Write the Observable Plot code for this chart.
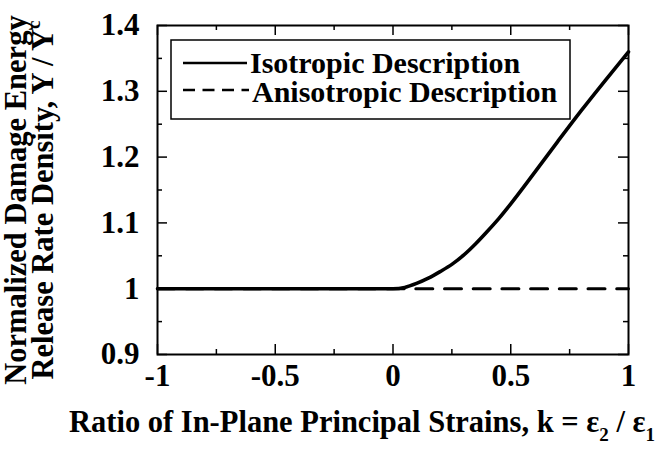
<!DOCTYPE html>
<html><head><meta charset="utf-8">
<script src="https://cdn.jsdelivr.net/npm/d3@7"></script>
<script src="https://cdn.jsdelivr.net/npm/@observablehq/plot@0.6"></script>
<style>body{margin:0;background:#fff}</style>
</head><body><div id="chart"></div>
<script>
// Data
const isoK = [-1, 0, 0.05, 0.1, 0.15, 0.2, 0.25, 0.3, 0.35, 0.4, 0.45, 0.5, 0.6, 0.7, 0.8, 0.9, 1.0];
const isoY = [1, 1, 1.002, 1.008, 1.016, 1.026, 1.037, 1.051, 1.068, 1.087, 1.107, 1.129, 1.176, 1.224, 1.271, 1.316, 1.36];
const anisoK = [-1, 1];
const anisoY = [1, 1];
const xMajor = [-1, -0.5, 0, 0.5, 1];
const xMinor = [-0.75, -0.25, 0.25, 0.75];
const yMajor = [0.9, 1, 1.1, 1.2, 1.3, 1.4];
const yMinor = [0.95, 1.05, 1.15, 1.25, 1.35];
const xTickLabels = ["-1", "-0.5", "0", "0.5", "1"];
const yTickLabels = ["0.9", "1", "1.1", "1.2", "1.3", "1.4"];
const legendLabels = ["Isotropic Description", "Anisotropic Description"];
const xTitle = ["Ratio of In-Plane Principal Strains, k = ", "\u03b5", "2", " / ", "\u03b5", "1"];
const yTitle1 = "Normalized Damage Energy";
const yTitle2 = ["Release Rate Density, Y / Y", "c"];

const W = 661, H = 455;
const mT = 25, mL = 157, mR = 33, mB = 101;
const fw = W - mL - mR, fh = H - mT - mB;
const FONT = "Liberation Serif, Times New Roman, serif";

const iso = isoK.map((k, i) => ({k, y: isoY[i]}));
const aniso = anisoK.map((k, i) => ({k, y: anisoY[i]}));

const plot = Plot.plot({
  width: W, height: H,
  marginTop: mT, marginLeft: mL, marginRight: mR, marginBottom: mB,
  style: {fontFamily: FONT, background: "white", color: "black", overflow: "visible"},
  x: {domain: [-1, 1]},
  y: {domain: [0.9, 1.4]},
  marks: [
    // ticks (inward, all four sides)
    Plot.ruleX(xMajor, {x: d => d, insetTop: fh - 10, strokeWidth: 1.5}),
    Plot.ruleX(xMinor, {x: d => d, insetTop: fh - 5, strokeWidth: 1.5}),
    Plot.ruleX(xMajor, {x: d => d, insetBottom: fh - 10, strokeWidth: 1.5}),
    Plot.ruleX(xMinor, {x: d => d, insetBottom: fh - 5, strokeWidth: 1.5}),
    Plot.ruleY(yMajor, {y: d => d, insetRight: fw - 10, strokeWidth: 1.5}),
    Plot.ruleY(yMinor, {y: d => d, insetRight: fw - 5, strokeWidth: 1.5}),
    Plot.ruleY(yMajor, {y: d => d, insetLeft: fw - 10, strokeWidth: 1.5}),
    Plot.ruleY(yMinor, {y: d => d, insetLeft: fw - 5, strokeWidth: 1.5}),
    // tick labels
    Plot.axisX(xMajor, {tickSize: 0, tickPadding: 9, fontSize: 31, fontWeight: "bold",
      tickFormat: (d, i) => xTickLabels[i], label: null}),
    Plot.axisY(yMajor, {tickSize: 0, tickPadding: 18, fontSize: 31, fontWeight: "bold",
      tickFormat: (d, i) => yTickLabels[i], label: null}),
    // series
    Plot.line(aniso, {x: "k", y: "y", stroke: "black", strokeWidth: 3, strokeDasharray: "17,11.7"}),
    Plot.line(iso, {x: "k", y: "y", stroke: "black", strokeWidth: 3.6, curve: "monotone-x"}),
    Plot.frame({stroke: "black", strokeWidth: 2})
  ]
});
document.getElementById("chart").appendChild(plot);

const svg = d3.select(plot);
// legend
const lg = svg.append("g").attr("font-family", FONT).attr("font-weight", "bold")
  .attr("font-size", 30).attr("text-anchor", "start");
lg.append("rect").attr("x", 171).attr("y", 40).attr("width", 399).attr("height", 79)
  .attr("fill", "white").attr("stroke", "black").attr("stroke-width", 1.5);
lg.append("line").attr("x1", 183).attr("x2", 247).attr("y1", 63).attr("y2", 63)
  .attr("stroke", "black").attr("stroke-width", 2.5);
lg.append("line").attr("x1", 183).attr("x2", 249).attr("y1", 90).attr("y2", 90)
  .attr("stroke", "black").attr("stroke-width", 2.5).attr("stroke-dasharray", "12,7.5");
lg.append("text").attr("x", 250).attr("y", 73).text(legendLabels[0]);
lg.append("text").attr("x", 252).attr("y", 102).text(legendLabels[1]);

// x title
const xt = svg.append("text").attr("x", 362).attr("y", 432).attr("text-anchor", "middle")
  .attr("font-family", FONT).attr("font-weight", "bold").attr("font-size", 30.5);
xt.append("tspan").text(xTitle[0]);
xt.append("tspan").text(xTitle[1]);
xt.append("tspan").attr("font-size", 19).attr("dy", 9).text(xTitle[2]);
xt.append("tspan").attr("dy", -9).text(xTitle[3]);
xt.append("tspan").text(xTitle[4]);
xt.append("tspan").attr("font-size", 19).attr("dy", 9).text(xTitle[5]);

// y title
const yt = svg.append("g").attr("transform", "translate(0,200) rotate(-90)")
  .attr("font-family", FONT).attr("font-weight", "bold").attr("font-size", 30.5).attr("text-anchor", "middle");
yt.append("text").attr("x", 0).attr("y", 26).text(yTitle1);
const y2 = yt.append("text").attr("x", 0).attr("y", 53);
y2.append("tspan").text(yTitle2[0]);
y2.append("tspan").attr("font-size", 19).attr("dy", -13).text(yTitle2[1]);
</script>
</body></html>
